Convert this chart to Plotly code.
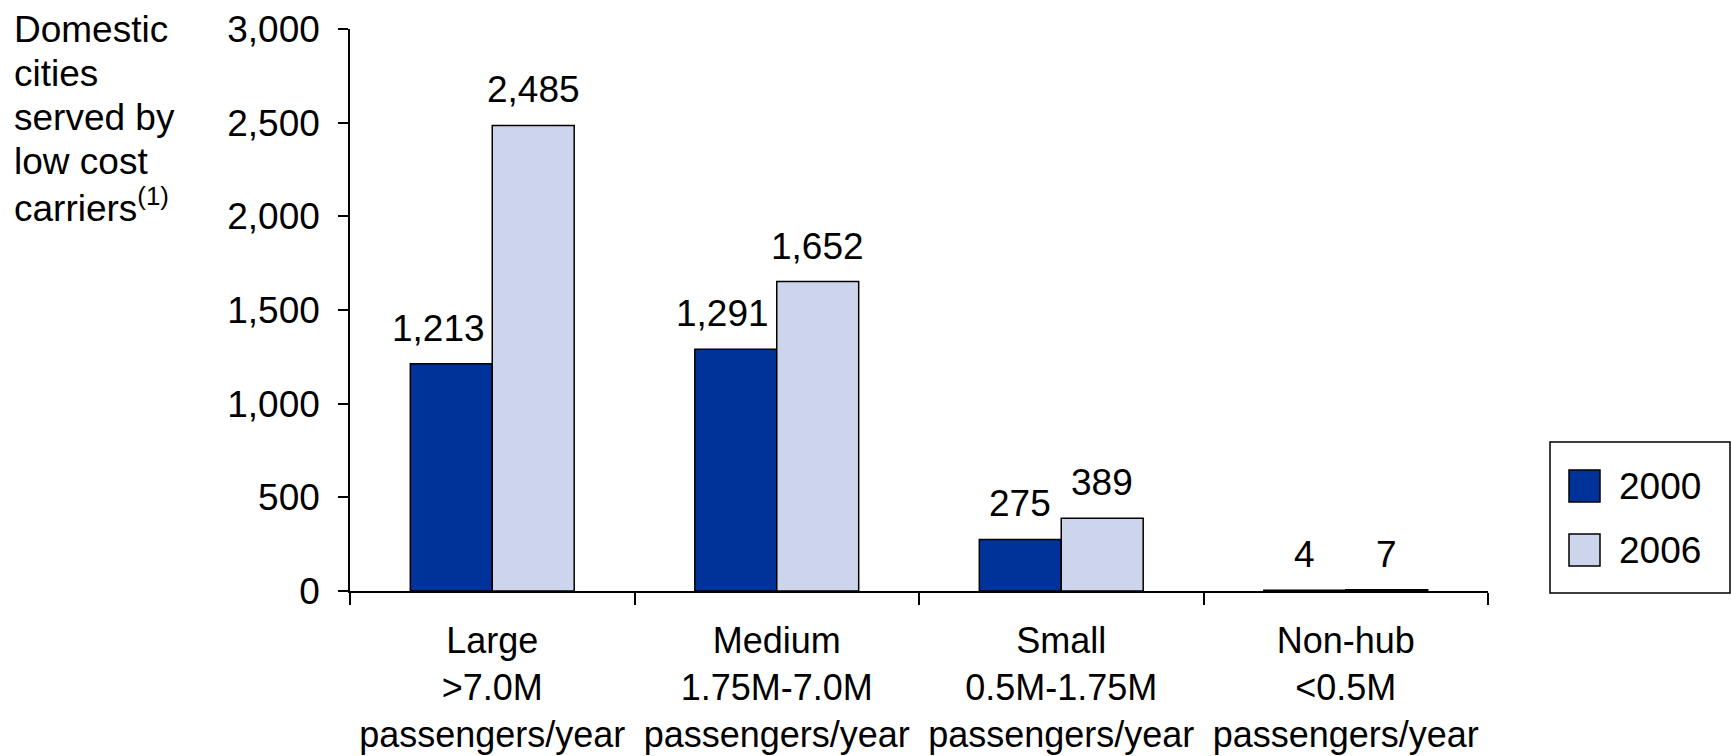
import plotly.graph_objects as go

# Airport size classes and cities served by low cost carriers
categories = [
    "Large<br>>7.0M<br>passengers/year",
    "Medium<br>1.75M-7.0M<br>passengers/year",
    "Small<br>0.5M-1.75M<br>passengers/year",
    "Non-hub<br><0.5M<br>passengers/year",
]
series_names = ["2000", "2006"]
values_2000 = [1213, 1291, 275, 4]
values_2006 = [2485, 1652, 389, 7]
y_ticks = [0, 500, 1000, 1500, 2000, 2500, 3000]
caption_lines = ["Domestic", "cities", "served by", "low cost", "carriers<sup>(1)</sup>"]

colors = ["#003399", "#CCD5EC"]
FONT = "Liberation Sans, Arial, sans-serif"
FS = 37

W, H = 1731, 756
ML, MR, MT, MB = 350, 243, 29, 165
PW, PH = W - ML - MR, H - MT - MB
BARGAP = 0.424
# horizontal nudges (px) for the value labels of each series
label_shift = [[-13, -13, 0, 0], [0, 0, 0, 0]]


def px_x(px):
    return (px - ML) / PW


def px_y(py):
    return (H - MB - py) / PH


fig = go.Figure()
for name, vals, col in zip(series_names, [values_2000, values_2006], colors):
    fig.add_trace(go.Bar(
        name=name, x=categories, y=vals,
        marker=dict(color=col, line=dict(color="black", width=1.5)),
        showlegend=False,
    ))

# value labels above each bar
annotations = []
half = (1 - BARGAP) / 4
for k, vals in enumerate([values_2000, values_2006]):
    off = -half if k == 0 else half
    for i, v in enumerate(vals):
        annotations.append(dict(
            x=i + off, y=v, xref="x", yref="y", text=f"{v:,}",
            showarrow=False, yanchor="bottom", yshift=13, xshift=label_shift[k][i],
            font=dict(size=FS, color="black", family=FONT),
        ))

# axis caption at top-left, one line per annotation for tight leading
for n, line in enumerate(caption_lines):
    annotations.append(dict(
        x=px_x(12), y=px_y(29.5 + 44 * n), xref="paper", yref="paper",
        xanchor="left", yanchor="middle", align="left", showarrow=False,
        text=line, font=dict(size=FS, color="black", family=FONT),
    ))

# legend box
shapes = [dict(type="rect", xref="paper", yref="paper",
               x0=px_x(1550), x1=px_x(1730), y0=px_y(593), y1=px_y(442),
               line=dict(color="black", width=1.5), fillcolor="white")]
for j, (name, col) in enumerate(zip(series_names, colors)):
    top = 470 + j * 64
    shapes.append(dict(type="rect", xref="paper", yref="paper",
                       x0=px_x(1569), x1=px_x(1600), y0=px_y(top + 32), y1=px_y(top),
                       line=dict(color="black", width=1.5), fillcolor=col))
    annotations.append(dict(
        x=px_x(1617), y=px_y(top + 16), xref="paper", yref="paper",
        xanchor="left", yanchor="middle", showarrow=False, text=name,
        font=dict(size=FS, color="black", family=FONT),
    ))

fig.update_layout(
    width=W, height=H,
    margin=dict(l=ML, r=MR, t=MT, b=MB, autoexpand=False),
    barmode="group", bargap=BARGAP, bargroupgap=0,
    plot_bgcolor="white", paper_bgcolor="white",
    font=dict(family=FONT, size=FS, color="black"),
    annotations=annotations, shapes=shapes,
)
fig.update_xaxes(
    type="category", tickson="boundaries", ticks="outside", ticklen=12,
    tickwidth=1.5, tickcolor="black", showline=True, linecolor="black",
    linewidth=1.5, showgrid=False, tickfont=dict(size=36), ticklabelstandoff=17,
)
fig.update_yaxes(
    range=[0, 3000], tickvals=y_ticks, tickformat=",", ticks="outside",
    ticklen=10, tickwidth=1.5, tickcolor="black", showline=True,
    linecolor="black", linewidth=1.5, showgrid=False, zeroline=False,
    tickfont=dict(size=FS), ticklabelstandoff=11,
)

fig.write_html("out.html")
